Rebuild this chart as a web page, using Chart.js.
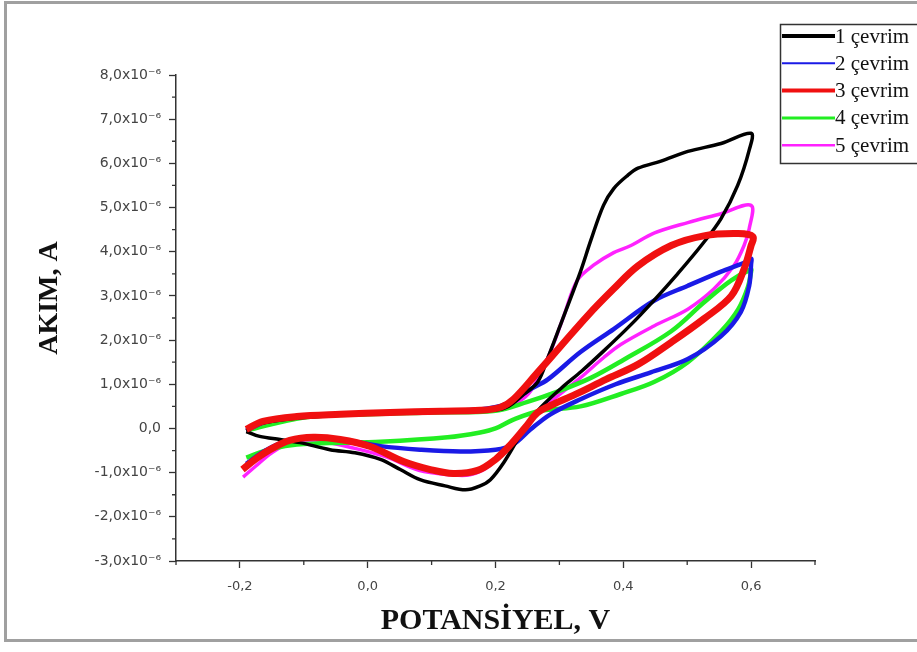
<!DOCTYPE html>
<html>
<head>
<meta charset="utf-8">
<script src="https://cdn.jsdelivr.net/npm/chart.js@4.4.1/dist/chart.umd.min.js"></script>
<style>
  html, body { margin: 0; padding: 0; background: #fff; }
  canvas { display: block; }
</style>
</head>
<body>
<canvas id="cv" width="917" height="652"></canvas>
<script>
// potansiyel (V) ve akim (x10^-6 A) - ileri tarama, sonra geri tarama
const cyc1V = [-0.19, -0.17, -0.12, -0.05, 0.05, 0.15, 0.2, 0.22, 0.244, 0.266, 0.282, 0.307, 0.333, 0.349, 0.369, 0.385, 0.407, 0.423, 0.459, 0.501, 0.553, 0.6,
  0.597, 0.579, 0.553, 0.522, 0.485, 0.448, 0.412, 0.369, 0.335, 0.302, 0.266, 0.239, 0.213, 0.192, 0.176, 0.153, 0.121, 0.082, 0.051, 0.02, -0.02, -0.059, -0.106, -0.137, -0.169, -0.19];
const cyc1I = [-0.05, 0.1, 0.22, 0.3, 0.36, 0.4, 0.42, 0.5, 0.77, 1.05, 1.6, 2.55, 3.55, 4.25, 5.05, 5.43, 5.73, 5.89, 6.05, 6.27, 6.45, 6.68,
  6.3, 5.5, 4.75, 4.14, 3.5, 2.9, 2.35, 1.75, 1.3, 0.9, 0.4, -0.15, -0.77, -1.16, -1.3, -1.39, -1.3, -1.16, -0.93, -0.7, -0.55, -0.48, -0.32, -0.25, -0.18, -0.07];

const cyc2V = [-0.19, -0.16, -0.11, -0.04, 0.04, 0.12, 0.176, 0.216, 0.255, 0.282, 0.333, 0.385, 0.448, 0.501, 0.553, 0.589, 0.6,
  0.6, 0.597, 0.584, 0.553, 0.501, 0.443, 0.388, 0.333, 0.286, 0.255, 0.228, 0.2, 0.145, 0.082, 0.02, -0.043, -0.09, -0.13, -0.16, -0.19];
const cyc2I = [-0.05, 0.15, 0.27, 0.33, 0.37, 0.41, 0.43, 0.55, 0.89, 1.11, 1.73, 2.25, 2.89, 3.23, 3.55, 3.75, 3.84,
  3.73, 3.23, 2.64, 2.09, 1.57, 1.27, 1.0, 0.66, 0.32, -0.02, -0.36, -0.48, -0.52, -0.48, -0.4, -0.25, -0.2, -0.3, -0.5, -0.8];

const cyc3V = [-0.19, -0.164, -0.111, -0.043, 0.035, 0.114, 0.176, 0.208, 0.228, 0.266, 0.302, 0.344, 0.385, 0.423, 0.475, 0.526, 0.58, 0.603,
  0.6, 0.589, 0.569, 0.526, 0.475, 0.423, 0.373, 0.325, 0.291, 0.266, 0.247, 0.224, 0.2, 0.172, 0.134, 0.098, 0.056, 0.004, -0.043, -0.085, -0.122, -0.153, -0.176, -0.196];
const cyc3I = [-0.02, 0.16, 0.27, 0.32, 0.36, 0.39, 0.41, 0.48, 0.66, 1.27, 1.86, 2.55, 3.16, 3.68, 4.14, 4.36, 4.41, 4.34,
  4.14, 3.61, 3.0, 2.48, 1.95, 1.45, 1.11, 0.77, 0.55, 0.36, 0.03, -0.36, -0.7, -0.95, -1.02, -0.93, -0.75, -0.41, -0.25, -0.2, -0.27, -0.48, -0.7, -0.93];

const cyc4V = [-0.19, -0.1, 0.0, 0.1, 0.2, 0.25, 0.3, 0.35, 0.4, 0.475, 0.526, 0.569, 0.6,
  0.6, 0.595, 0.58, 0.553, 0.501, 0.448, 0.396, 0.333, 0.27, 0.228, 0.2, 0.176, 0.125, 0.02, -0.06, -0.12, -0.16, -0.19];
const cyc4I = [-0.05, 0.25, 0.32, 0.36, 0.4, 0.6, 0.85, 1.15, 1.55, 2.2, 2.85, 3.35, 3.6,
  3.55, 3.2, 2.7, 2.2, 1.5, 1.05, 0.78, 0.5, 0.4, 0.2, 0.0, -0.09, -0.2, -0.3, -0.33, -0.38, -0.5, -0.66];

const cyc5V = [-0.19, -0.16, -0.1, 0.0, 0.1, 0.18, 0.21, 0.235, 0.255, 0.282, 0.307, 0.328, 0.354, 0.385, 0.412, 0.448, 0.501, 0.553, 0.6,
  0.597, 0.589, 0.573, 0.542, 0.501, 0.448, 0.396, 0.369, 0.333, 0.282, 0.25, 0.22, 0.19, 0.16, 0.13, 0.08, 0.03, -0.02, -0.08, -0.12, -0.15, -0.175, -0.195];
const cyc5I = [-0.05, 0.12, 0.25, 0.33, 0.37, 0.41, 0.48, 0.6, 0.85, 1.6, 2.55, 3.35, 3.7, 3.98, 4.14, 4.42, 4.66, 4.86, 5.05,
  4.52, 4.14, 3.68, 3.16, 2.7, 2.32, 1.9, 1.6, 1.15, 0.55, 0.1, -0.4, -0.85, -1.05, -1.05, -0.95, -0.65, -0.45, -0.28, -0.32, -0.55, -0.85, -1.1];

const cycleNames = ['1 çevrim', '2 çevrim', '3 çevrim', '4 çevrim', '5 çevrim'];
const xTicks = [-0.2, 0.0, 0.2, 0.4, 0.6];
const yTicks = [-3, -2, -1, 0, 1, 2, 3, 4, 5, 6, 7, 8];

function pts(vs, is) {
  return vs.map((v, i) => ({ x: v, y: is[i] }));
}

const colors = ['#000000', '#1a1ae6', '#f01010', '#22ee22', '#ff22ff'];
const widths = [3.5, 4.5, 7, 4.5, 3.5];
const legendWidths = [4, 2, 4, 3, 2.5];
const drawOrder = [1, 2, 0, 3, 4];
const series = [[cyc1V, cyc1I], [cyc2V, cyc2I], [cyc3V, cyc3I], [cyc4V, cyc4I], [cyc5V, cyc5I]];

const datasets = series.map((s, k) => ({
  label: cycleNames[k],
  data: pts(s[0], s[1]),
  showLine: true,
  borderColor: colors[k],
  backgroundColor: colors[k],
  borderWidth: widths[k],
  pointRadius: 0,
  tension: 0.35,
  fill: false,
  order: drawOrder[k]
}));

function fmt(v) {
  return v.toFixed(1).replace('.', ',');
}

const extras = {
  id: 'extras',
  afterDraw(chart) {
    const ctx = chart.ctx;
    const xs = chart.scales.x, ys = chart.scales.y;
    ctx.save();
    // minor ticks
    ctx.strokeStyle = '#333';
    ctx.lineWidth = 1.3;
    ctx.beginPath();
    for (let v = -0.3; v <= 0.701; v += 0.2) {
      const px = xs.getPixelForValue(v);
      ctx.moveTo(px, ys.bottom);
      ctx.lineTo(px, ys.bottom + 4);
    }
    for (let v = -2.5; v <= 7.51; v += 1) {
      const py = ys.getPixelForValue(v);
      ctx.moveTo(xs.left, py);
      ctx.lineTo(xs.left - 4, py);
    }
    ctx.stroke();

    // y title
    ctx.fillStyle = '#111';
    ctx.font = 'bold 28px "Liberation Serif"';
    ctx.textAlign = 'center';
    ctx.textBaseline = 'middle';
    ctx.translate(50, 298);
    ctx.rotate(-Math.PI / 2);
    ctx.fillText('AKIM, A', 0, 0);
    ctx.restore();

    // legend
    ctx.save();
    ctx.strokeStyle = '#333';
    ctx.lineWidth = 1.5;
    ctx.strokeRect(780.5, 24.5, 200, 139);
    ctx.font = '21px "Liberation Serif"';
    ctx.textBaseline = 'middle';
    ctx.textAlign = 'left';
    chart.data.datasets.forEach((d, k) => {
      const y = 36 + k * 27.3;
      ctx.strokeStyle = d.borderColor;
      ctx.lineWidth = legendWidths[k];
      ctx.beginPath();
      ctx.moveTo(782, y);
      ctx.lineTo(835, y);
      ctx.stroke();
      ctx.fillStyle = '#111';
      ctx.fillText(d.label, 835, y + 1);
    });

    // frame
    ctx.strokeStyle = '#a0a0a0';
    ctx.lineWidth = 3;
    ctx.strokeRect(5.5, 2.5, 1000, 638);
    ctx.restore();
  }
};

new Chart(document.getElementById('cv'), {
  type: 'scatter',
  data: { datasets: datasets },
  plugins: [extras],
  options: {
    responsive: false,
    animation: false,
    layout: { padding: { left: 0, right: 102, top: 75, bottom: 0 } },
    plugins: {
      legend: { display: false },
      tooltip: { enabled: false }
    },
    scales: {
      x: {
        type: 'linear',
        min: -0.3,
        max: 0.7,
        afterBuildTicks: s => { s.ticks = xTicks.map(v => ({ value: v })); },
        afterFit: s => { s.height = 91; },
        grid: { drawOnChartArea: false, drawTicks: true, tickLength: 7, tickColor: '#333', tickWidth: 1.3 },
        border: { color: '#333', width: 1.5 },
        ticks: {
          padding: 11,
          color: '#444',
          font: { family: 'DejaVu Sans', size: 13 },
          callback: v => fmt(v)
        },
        title: {
          display: true,
          text: 'POTANSİYEL, V',
          color: '#111',
          font: { family: 'Liberation Serif', size: 30, weight: 'bold' },
          padding: { top: 0, bottom: 13 }
        }
      },
      y: {
        type: 'linear',
        min: -3,
        max: 8,
        afterBuildTicks: s => { s.ticks = yTicks.map(v => ({ value: v })); },
        afterFit: s => { s.width = 176; },
        grid: { drawOnChartArea: false, drawTicks: true, tickLength: 7, tickColor: '#333', tickWidth: 1.3 },
        border: { color: '#333', width: 1.5 },
        ticks: {
          padding: 8,
          color: '#444',
          font: { family: 'DejaVu Sans', size: 14 },
          callback: v => v === 0 ? '0,0' : fmt(v) + 'x10⁻⁶'
        }
      }
    }
  }
});
</script>
</body>
</html>
